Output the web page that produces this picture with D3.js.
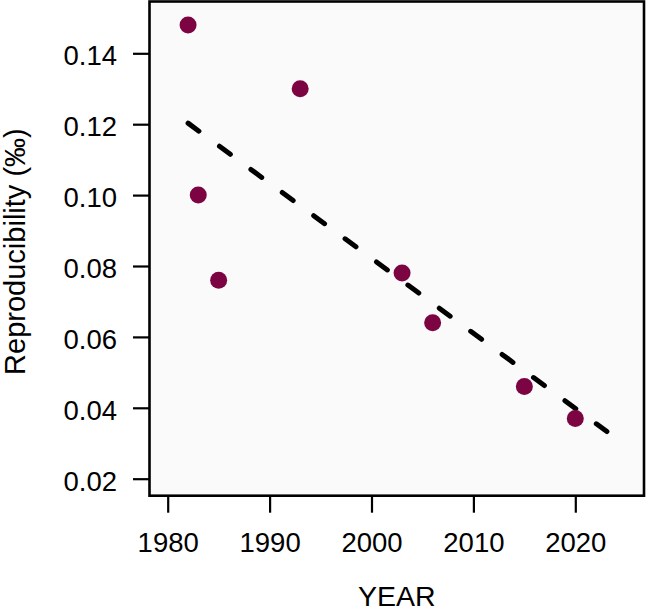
<!DOCTYPE html>
<html>
<head>
<meta charset="utf-8">
<script src="https://cdn.jsdelivr.net/npm/d3@7"></script>
<style>
  html, body { margin: 0; padding: 0; background: #ffffff; }
  svg { display: block; }
  text { font-family: "Liberation Sans", Arial, Helvetica, sans-serif; fill: #000; }
</style>
</head>
<body>
<svg id="chart" width="646" height="611"></svg>
<script>
// ---- data ----
const years = [1982, 1983, 1985, 1993, 2003, 2006, 2015, 2020];
const reproducibility = [0.148, 0.100, 0.076, 0.130, 0.078, 0.064, 0.046, 0.037];
const trendYears = [1982, 2023.1];
const trendValues = [0.1203, 0.0333];
const xTicks = [1980, 1990, 2000, 2010, 2020];
const yTicks = [0.02, 0.04, 0.06, 0.08, 0.10, 0.12, 0.14];
const xLabel = "YEAR";
const yLabel = "Reproducibility (‰)";

// ---- layout ----
const svg = d3.select("#chart");
const frame = { left: 149.5, right: 644, top: 1.5, bottom: 495.7 };

const x = d3.scaleLinear().domain([1980, 2020]).range([167.7, 575.3]);
const y = d3.scaleLinear().domain([0.02, 0.14]).range([478.7, 53.3]);

// plot background
svg.append("rect")
  .attr("x", frame.left).attr("y", frame.top)
  .attr("width", frame.right - frame.left)
  .attr("height", frame.bottom - frame.top)
  .attr("fill", "#fafafa");

// trend line (dashed)
const line = d3.line().x(d => x(d[0])).y(d => y(d[1]));
svg.append("path")
  .datum(d3.zip(trendYears, trendValues))
  .attr("d", line)
  .attr("fill", "none")
  .attr("stroke", "#000")
  .attr("stroke-width", 5)
  .attr("stroke-linecap", "round")
  .attr("stroke-dasharray", "13.5,25.5");

// points
svg.append("g").selectAll("circle")
  .data(d3.zip(years, reproducibility))
  .join("circle")
  .attr("cx", d => x(d[0]))
  .attr("cy", d => y(d[1]))
  .attr("r", 8.5)
  .attr("fill", "#7d0442");

// frame
svg.append("rect")
  .attr("x", frame.left).attr("y", frame.top)
  .attr("width", frame.right - frame.left)
  .attr("height", frame.bottom - frame.top)
  .attr("fill", "none")
  .attr("stroke", "#000")
  .attr("stroke-width", 2.6);

// x axis
const xAxis = d3.axisBottom(x)
  .tickValues(xTicks)
  .tickFormat(d3.format("d"))
  .tickSize(17)
  .tickPadding(22);
const gx = svg.append("g")
  .attr("transform", `translate(0,${frame.bottom})`)
  .call(xAxis);
gx.select(".domain").remove();
gx.selectAll(".tick line").attr("stroke", "#000").attr("stroke-width", 2.2);
gx.selectAll(".tick text")
  .attr("font-size", 27.5)
  .attr("font-family", "Liberation Sans, Arial, sans-serif")
  .attr("fill", "#000")
  .attr("dy", null)
  .attr("y", 552.5 - frame.bottom);

// y axis
const yAxis = d3.axisLeft(y)
  .tickValues(yTicks)
  .tickFormat(d3.format(".2f"))
  .tickSize(16.5)
  .tickPadding(16);
const gy = svg.append("g")
  .attr("transform", `translate(${frame.left},0)`)
  .call(yAxis);
gy.select(".domain").remove();
gy.selectAll(".tick line").attr("stroke", "#000").attr("stroke-width", 2.2);
gy.selectAll(".tick text")
  .attr("font-size", 27.5)
  .attr("font-family", "Liberation Sans, Arial, sans-serif")
  .attr("fill", "#000")
  .attr("dy", null)
  .attr("y", 11.5);

// axis titles
svg.append("text")
  .attr("x", (frame.left + frame.right) / 2)
  .attr("y", 606)
  .attr("text-anchor", "middle")
  .attr("font-size", 28.5)
  .text(xLabel);

svg.append("text")
  .attr("transform", `translate(25,${(frame.top + frame.bottom) / 2 + 3}) rotate(-90)`)
  .attr("text-anchor", "middle")
  .attr("font-size", 29)
  .text(yLabel);
</script>
</body>
</html>
